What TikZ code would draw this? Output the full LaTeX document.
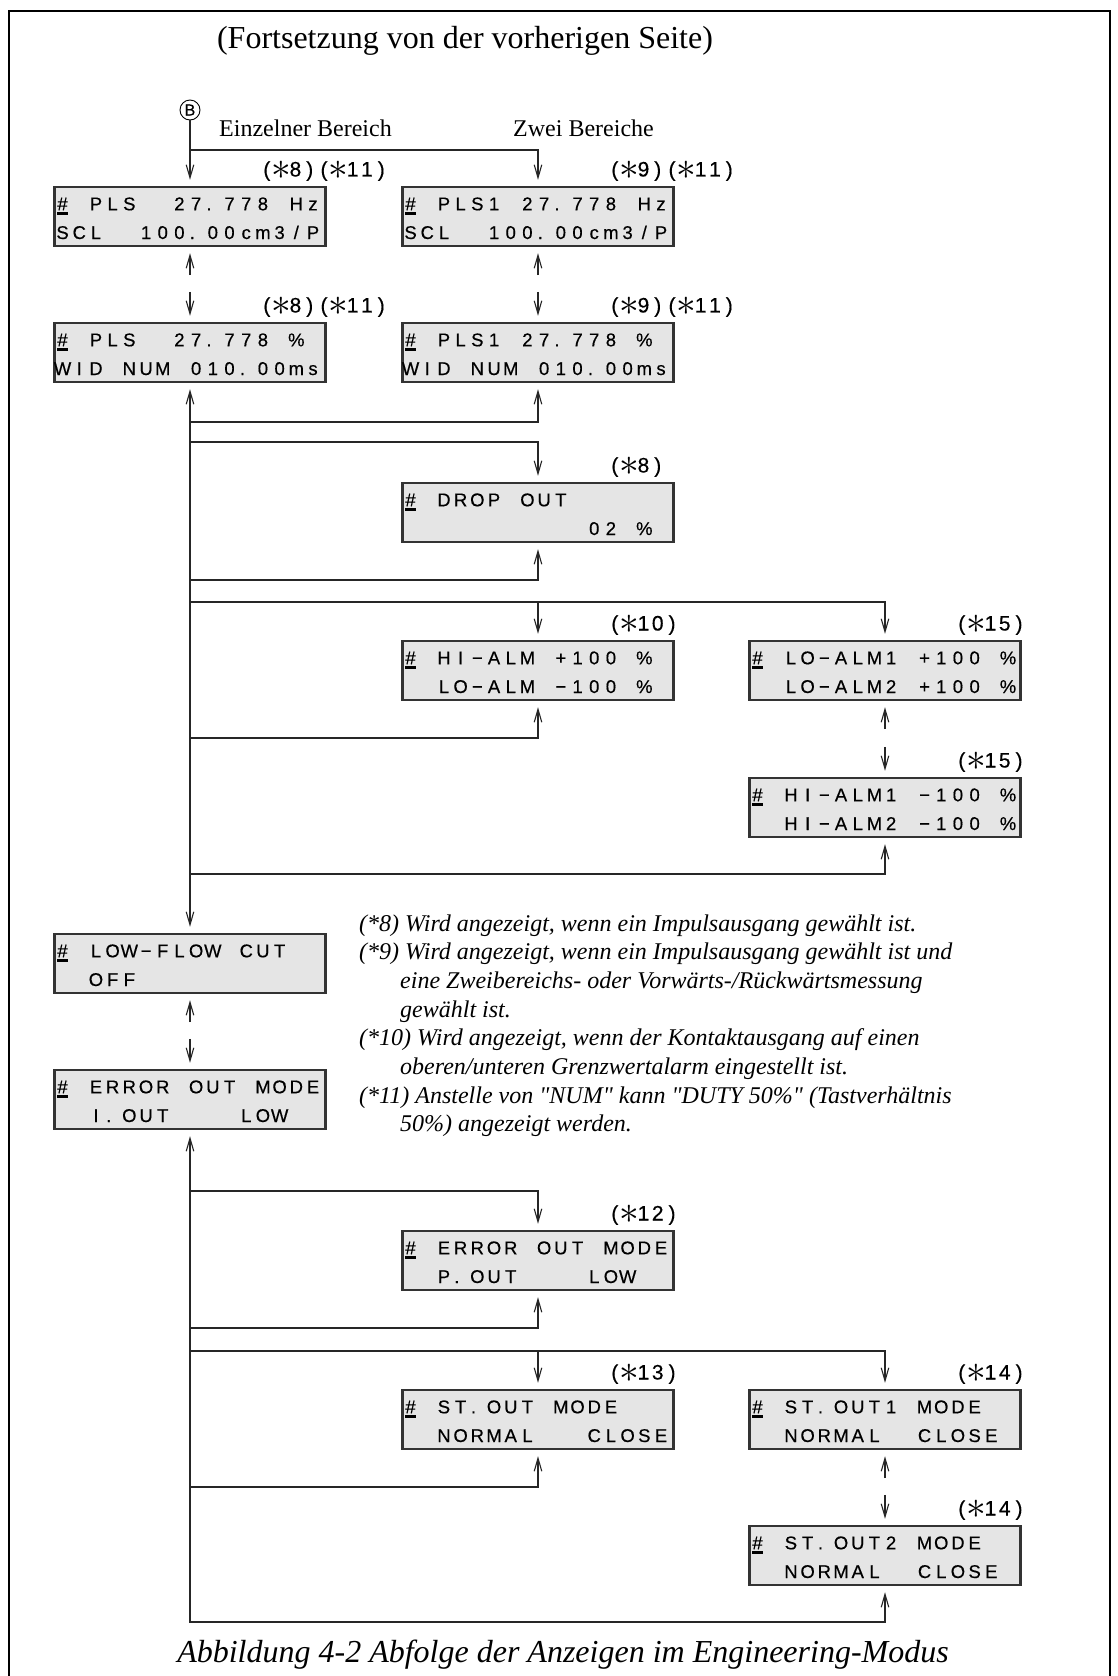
\documentclass[tikz,border=0pt]{standalone}
\usepackage{graphicx}
\usepackage{fontspec}
\setmainfont{Liberation Serif}
\newfontfamily\lcdfont[FakeBold=0.4]{Liberation Sans}
\usetikzlibrary{arrows.meta}

% ---- character-cell typesetting for the LCD panels ----
\newlength\cellw
\def\lcdend{LCD-END}
\def\lcdrun#1{\lcdstep#1\lcdend}
\def\lcdstep#1{\ifx#1\lcdend\else\lcdcell#1\expandafter\lcdstep\fi}
\def\lcdcell#1{%
  \ifx#1_\hbox to\cellw{}%
  \else\ifx#1.\hbox to\cellw{\hskip.12\cellw.\hss}%
  \else\hbox to\cellw{\hss#1\hss}\fi\fi}
\newcommand\CUR{\setbox0\hbox{\#}\rlap{\rule[-4.5pt]{\wd0}{2.4pt}}\box0}
\newcommand\ST{\raisebox{-3pt}{\scalebox{1.9}{$\ast$}}}
\newcommand\lcdtext[1]{{\lcdfont\fontsize{18.5}{18.5}\selectfont\setlength\cellw{16.7pt}\lcdrun{#1}}}
\newcommand\tagtext[1]{{\lcdfont\fontsize{21}{21}\selectfont\setlength\cellw{14.3pt}\lcdrun{#1}}}

\tikzset{
  lcdbox/.style={draw=black!80, fill=black!10, line width=2.4pt,
    minimum width=271pt, minimum height=59pt, inner sep=0pt},
  lcdrow/.style={anchor=base west, inner sep=0pt},
  tagnode/.style={anchor=west, inner sep=0pt},
  con/.style={draw=black!85, line width=1.1pt},
  arr/.style={con, -{Straight Barb[length=13pt,width=7.5pt]}},
  arr2/.style={con, {Straight Barb[length=13pt,width=7.5pt]}-{Straight Barb[length=13pt,width=7.5pt]}},
  note/.style={anchor=base west, inner sep=0pt, font=\itshape\fontsize{24}{24}\selectfont},
}

% name, centre x, top y, first line, second line
\newcommand\lcd[5]{%
  \node[lcdbox] (#1) at (#2,#3+30.5) {};
  \node[lcdrow] (#1-a) at (#2-136,#3+24.3) {\lcdtext{#4}};
  \node[lcdrow] (#1-b) at (#2-136,#3+53) {\lcdtext{#5}};
}
% name, column x, box top y, text
\newcommand\tagat[4]{\node[tagnode] (#1) at (#2+69.5,#3-15) {\tagtext{#4}};}
% up/down arrow pair between two stacked panels
\newcommand\pairarrows[2]{%
  \draw[arr] ([yshift=-28pt]#1.south) -- ([yshift=-6pt]#1.south);
  \draw[arr] ([yshift=30pt]#2.north) -- ([yshift=6pt]#2.north);
}

\begin{document}
\begin{tikzpicture}[x=1pt,y=-1pt]
\useasboundingbox (0,0) rectangle (1117,1676);
\clip (0,0) rectangle (1117,1676);
\fill[white] (0,0) rectangle (1117,1676);

% page frame
\draw[line width=2.5pt] (9,1700) -- (9,11) -- (1110,11) -- (1110,1700);

% headings
\node[anchor=base, inner sep=0pt, font=\fontsize{32}{32}\selectfont] (title) at (465,48)
  {(Fortsetzung von der vorherigen Seite)};
\node[anchor=base west, inner sep=0pt, font=\fontsize{24}{24}\selectfont] (einz) at (219,136) {Einzelner Bereich};
\node[anchor=base west, inner sep=0pt, font=\fontsize{24}{24}\selectfont] (zwei) at (513,136) {Zwei Bereiche};

% connector symbol
\node[circle, draw, line width=0.9pt, minimum size=20pt, inner sep=0pt,
  font=\lcdfont\fontsize{16}{16}\selectfont] (B) at (190,110) {B};

% display panels
\lcd{AL}{190}{186}{\CUR_PLS__27.778_Hz}{SCL__100.00cm3/P}
\lcd{AM}{538}{186}{\CUR_PLS1_27.778_Hz}{SCL__100.00cm3/P}
\lcd{BL}{190}{322}{\CUR_PLS__27.778_\%}{WID_NUM_010.00ms}
\lcd{BM}{538}{322}{\CUR_PLS1_27.778_\%}{WID_NUM_010.00ms}
\lcd{DR}{538}{482}{\CUR_DROP_OUT}{___________02_\%}
\lcd{HI}{538}{640}{\CUR_HI−ALM_+100_\%}{__LO−ALM_−100_\%}
\lcd{LO}{885}{640}{\CUR_LO−ALM1_+100_\%}{__LO−ALM2_+100_\%}
\lcd{HA}{885}{777}{\CUR_HI−ALM1_−100_\%}{__HI−ALM2_−100_\%}
\lcd{LF}{190}{933}{\CUR_LOW−FLOW_CUT}{__OFF}
\lcd{EI}{190}{1069}{\CUR_ERROR_OUT_MODE}{__I.OUT____LOW}
\lcd{EP}{538}{1230}{\CUR_ERROR_OUT_MODE}{__P.OUT____LOW}
\lcd{SO}{538}{1389}{\CUR_ST.OUT_MODE}{__NORMAL___CLOSE}
\lcd{SA}{885}{1389}{\CUR_ST.OUT1_MODE}{__NORMAL__CLOSE}
\lcd{SB}{885}{1525}{\CUR_ST.OUT2_MODE}{__NORMAL__CLOSE}

% condition tags
\tagat{tAL}{190}{186}{(\ST8)(\ST11)}
\tagat{tAM}{538}{186}{(\ST9)(\ST11)}
\tagat{tBL}{190}{322}{(\ST8)(\ST11)}
\tagat{tBM}{538}{322}{(\ST9)(\ST11)}
\tagat{tDR}{538}{482}{(\ST8)}
\tagat{tHI}{538}{640}{(\ST10)}
\tagat{tLO}{885}{640}{(\ST15)}
\tagat{tHA}{885}{777}{(\ST15)}
\tagat{tEP}{538}{1230}{(\ST12)}
\tagat{tSO}{538}{1389}{(\ST13)}
\tagat{tSA}{885}{1389}{(\ST14)}
\tagat{tSB}{885}{1525}{(\ST14)}

% junctions on the main vertical line
\coordinate (j0) at (190,150);
\coordinate (j1) at (190,422);
\coordinate (j2) at (190,442);
\coordinate (j3) at (190,580);
\coordinate (j4) at (190,602);
\coordinate (j5) at (190,738);
\coordinate (j6) at (190,874);
\coordinate (j7) at (190,1191);
\coordinate (j8) at (190,1328);
\coordinate (j9) at (190,1351);
\coordinate (j10) at (190,1487);
\coordinate (j11) at (190,1622);

% entry from B
\draw[arr] (B) -- ([yshift=6pt]AL.north);
\draw[arr] (j0) -| ([yshift=6pt]AM.north);

% stacked pairs
\pairarrows{AL}{BL}
\pairarrows{AM}{BM}
\pairarrows{LO}{HA}
\pairarrows{LF}{EI}
\pairarrows{SA}{SB}

% upper loop
\draw[arr2] ([yshift=-6pt]BL.south) -- ([yshift=6pt]LF.north);
\draw[arr] (j1) -| ([yshift=-6pt]BM.south);
\draw[arr] (j2) -| ([yshift=6pt]DR.north);
\draw[arr] (j3) -| ([yshift=-6pt]DR.south);
\draw[arr] (j4) -| ([yshift=6pt]HI.north);
\draw[arr] (j4) -| ([yshift=6pt]LO.north);
\draw[arr] (j5) -| ([yshift=-6pt]HI.south);
\draw[arr] (j6) -| ([yshift=-6pt]HA.south);

% lower loop
\draw[arr2] ([yshift=-6pt]EI.south) -- (j11) -| ([yshift=-6pt]SB.south);
\draw[arr] (j7) -| ([yshift=6pt]EP.north);
\draw[arr] (j8) -| ([yshift=-6pt]EP.south);
\draw[arr] (j9) -| ([yshift=6pt]SO.north);
\draw[arr] (j9) -| ([yshift=6pt]SA.north);
\draw[arr] (j10) -| ([yshift=-6pt]SO.south);

% footnotes
\node[note] (n1) at (359,931) {(*8) Wird angezeigt, wenn ein Impulsausgang gewählt ist.};
\node[note] (n2) at (359,959.7) {(*9) Wird angezeigt, wenn ein Impulsausgang gewählt ist und};
\node[note] (n3) at (400,988.4) {eine Zweibereichs- oder Vorwärts-/Rückwärtsmessung};
\node[note] (n4) at (400,1017.1) {gewählt ist.};
\node[note] (n5) at (359,1045.8) {(*10) Wird angezeigt, wenn der Kontaktausgang auf einen};
\node[note] (n6) at (400,1074.5) {oberen/unteren Grenzwertalarm eingestellt ist.};
\node[note] (n7) at (359,1103.2) {(*11) Anstelle von \textquotedbl NUM\textquotedbl{} kann \textquotedbl DUTY 50\%\textquotedbl{} (Tastverhältnis};
\node[note] (n8) at (400,1131.9) {50\%) angezeigt werden.};

% caption
\node[anchor=base, inner sep=0pt, font=\itshape\fontsize{32}{32}\selectfont] (cap) at (563,1662)
  {Abbildung 4-2 Abfolge der Anzeigen im Engineering-Modus};
\end{tikzpicture}
\end{document}
